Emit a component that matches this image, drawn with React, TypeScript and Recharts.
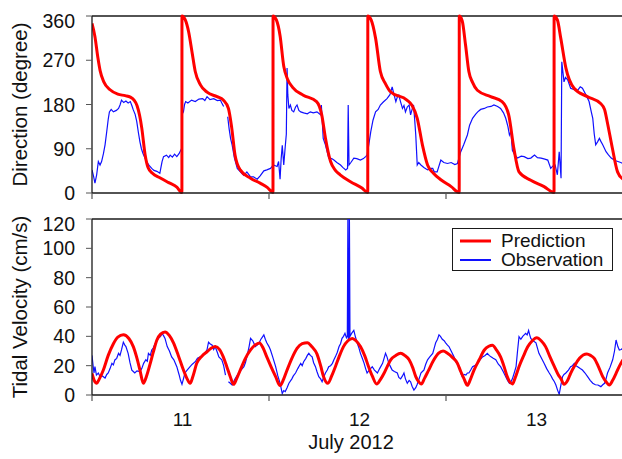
import React from "react";
import { LineChart, Line, XAxis, YAxis, Legend, ReferenceLine } from "recharts";

// x = hours since 11 July 2012 00:00
const dayTicks = [0, 12, 24, 36, 48, 60, 72];
const dayNames: Record<number, string> = { 12: "11", 36: "12", 60: "13" };
const dirTicks = [0, 90, 180, 270, 360];
const velTicks = [0, 20, 40, 60, 80, 100, 120];

type Pt = [number, number | null];

// 방향 예측 (degree)
const predDir: Pt[] = [
  [0, 345], [0.4, 318], [0.8, 275], [1.1, 249], [1.6, 226], [2.45, 210], [3.5, 201], [4.5, 198], [5.2, 195], [5.7, 189],
  [6.1, 178], [6.45, 158], [6.75, 132], [7.2, 78], [7.6, 52], [8.2, 40], [9.2, 31], [10.4, 21], [11.5, 12], [12.19, 1],
  [12.2, 360], [12.65, 352], [13.1, 328], [13.56, 287], [14.0, 247], [14.7, 220], [15.6, 205], [16.96, 196], [17.8, 189],
  [18.5, 172], [18.95, 132], [19.4, 77], [20.1, 47], [21.5, 30], [22.8, 20], [23.8, 11], [24.54, 1],
  [24.55, 360], [25.0, 352], [25.5, 320], [26.0, 258], [26.5, 232], [27.2, 215], [28.65, 199], [30.45, 186], [31.15, 159],
  [31.65, 112], [32.35, 64], [33.0, 46], [33.65, 37], [35.05, 23], [36.6, 10], [37.39, 1],
  [37.4, 360], [37.85, 352], [38.45, 315], [39.1, 247], [39.8, 222], [40.47, 206], [42.7, 189], [43.4, 178], [44.1, 152],
  [44.8, 98], [45.5, 57], [46.3, 40], [47.3, 27], [48.7, 13], [49.79, 1],
  [49.8, 360], [50.2, 350], [50.65, 301], [51.1, 247], [51.6, 225], [52.25, 209], [54.05, 196], [55.6, 186], [56.5, 159],
  [57.2, 91], [57.9, 43], [59.5, 26], [61.3, 13], [62.65, 1],
  [62.66, 360], [63.1, 352], [63.56, 315], [64.26, 254], [65.36, 213], [67.16, 196], [68.96, 182], [69.5, 170], [69.86, 145],
  [70.56, 91], [71.26, 43], [72, 28],
];

// 방향 관측 (degree)
const obsDir: Pt[] = [
  [0, 47], [0.2, 35], [0.4, 20], [0.63, 37], [0.86, 64], [1.09, 57], [1.3, 64], [1.55, 80], [1.77, 98], [2.0, 125], [2.2, 150],
  [2.36, 165], [2.6, 170], [2.9, 165], [3.3, 168], [3.6, 172], [3.8, 179], [4.0, 189], [4.3, 184], [4.6, 187], [4.9, 183],
  [5.2, 186], [5.4, 178], [5.6, 169], [5.85, 160], [6.07, 145], [6.3, 122], [6.5, 104], [6.7, 90], [6.9, 81], [7.15, 72],
  [7.4, 64], [7.8, 55], [8.1, 50], [8.4, 46], [8.8, 44], [9.2, 40], [9.35, 52], [9.5, 64], [9.7, 74], [10.1, 77], [10.4, 72],
  [10.6, 77], [10.9, 73], [11.2, 79], [11.5, 74], [11.8, 80], [12.0, 86], [12.2, 92],
  [12.22, 160], [12.4, 165], [12.55, 180], [12.7, 186], [13.0, 183], [13.5, 189], [14.0, 186], [14.5, 191], [15.0, 192],
  [15.3, 188], [15.6, 196], [16.0, 190], [16.5, 192], [17.0, 188], [17.4, 189], [17.6, 183], [17.85, 176], [18.1, null],
  [18.4, 155], [18.6, 130], [18.8, 110], [19.0, 98], [19.3, 72], [19.7, 50], [20.0, 45], [20.3, 40], [20.6, 36], [21.0, 43],
  [21.5, 33], [21.9, 33], [22.4, 28], [22.8, 35], [23.3, 45], [23.7, 47], [24.2, 50], [24.6, 57], [25.1, 54], [25.3, 64],
  [25.5, 28], [25.65, 70], [25.8, 97], [26.0, 57], [26.2, 94], [26.35, 120], [26.45, 254], [26.55, 200], [26.7, 172],
  [26.9, 179], [27.1, 168], [27.35, 165], [27.6, 175], [27.8, 179], [28.05, 168], [28.3, 165], [28.7, 163], [29.2, 161],
  [29.6, 165], [30.0, 163], [30.5, 165], [31.0, 159], [31.1, 179], [31.35, 111], [31.65, 98], [32.1, 71], [32.5, 70],
  [32.8, 67], [33.2, 62], [33.7, 57], [34.0, 52], [34.4, 47], [34.65, 50], [34.74, 179], [34.85, 57], [35.1, 62], [35.5, 71],
  [35.9, 70], [36.4, 67], [36.8, 70], [37.1, 74], [37.3, 77], [37.55, 100], [37.8, 125], [38.1, 148], [38.45, 165], [38.8, 170],
  [39.1, 179], [39.5, 185], [40.0, 192], [40.4, 200], [40.7, 216], [40.95, 200], [41.2, 186], [41.4, 195], [41.6, 199],
  [41.85, 185], [42.1, 172], [42.3, 178], [42.5, 165], [42.75, 175], [43.0, 179], [43.2, 159], [43.4, 170], [43.6, 179],
  [43.75, 150], [43.9, 118], [44.1, 57], [44.3, 62], [44.6, 57], [45.0, 52], [45.5, 47], [45.9, 50], [46.2, 50], [46.4, 43],
  [46.8, 43], [47.3, 67], [47.7, 62], [48.2, 60], [48.7, 62], [49.2, 58], [49.55, 60], [50.0, 84], [50.4, 98], [50.9, 118],
  [51.2, 138], [51.6, 152], [52.0, 160], [52.3, 165], [52.7, 170], [53.2, 172], [53.6, 175], [54.1, 176], [54.5, 179],
  [55.0, 176], [55.4, 172], [55.8, 163], [56.1, 152], [56.4, 135], [56.6, 118], [56.8, 125], [57.0, 87], [57.3, 78],
  [57.7, 71], [58.2, 75], [58.6, 74], [59.1, 70], [59.5, 71], [60.0, 77], [60.4, 72], [60.9, 71], [61.4, 69], [61.8, 67],
  [62.2, 50], [62.5, 55], [62.8, 57], [63.1, 37], [63.35, 84], [63.6, 30], [63.7, 267], [64.0, 226], [64.2, 235], [64.5, 230],
  [64.9, 213], [65.4, 210], [65.85, 209], [66.2, 216], [66.5, 213], [67.0, 199], [67.4, 186], [67.7, 165], [67.9, 152],
  [68.1, 120], [68.3, 98], [68.55, 104], [68.8, 111], [69.0, 105], [69.25, 98], [69.7, 84], [70.0, 78], [70.4, 71],
  [70.9, 66], [71.3, 64], [71.7, 62], [72, 60],
];

// 유속 예측 (cm/s)
const predVel: Pt[] = [
  [0, 14.8], [0.3, 10], [0.64, 8], [1.0, 11], [1.54, 17], [2.2, 27], [2.9, 35], [3.5, 39.5], [4.25, 41], [5.0, 38.5],
  [5.6, 33], [6.1, 25], [6.5, 17], [6.97, 8], [7.4, 13], [7.9, 21.6], [8.3, 29], [8.8, 37.5], [9.3, 41.5], [9.9, 43],
  [10.5, 40.5], [11.05, 35.6], [11.7, 27], [12.4, 17], [12.9, 11], [13.3, 8], [13.7, 13], [14.2, 21.6], [14.9, 26.5],
  [15.6, 29.5], [16.2, 32], [16.7, 33], [17.3, 31], [17.8, 26], [18.3, 19], [18.75, 12.5], [19.2, 7.3], [19.6, 11],
  [20.1, 17], [20.8, 25], [21.5, 30.7], [22.1, 34], [22.7, 35.5], [23.2, 32], [23.7, 26], [24.3, 19], [24.9, 12.5],
  [25.5, 6.4], [26.0, 11], [26.45, 17], [27.1, 25], [27.8, 31.8], [28.5, 35], [29.2, 35.7], [29.8, 33], [30.5, 28],
  [31.0, 20], [31.4, 12.5], [32.0, 8], [32.5, 13], [33.0, 19.3], [33.5, 26], [34.1, 33], [34.7, 37], [35.3, 38.6],
  [35.8, 37], [36.4, 33], [37.0, 26.5], [37.5, 19.3], [38.0, 13], [38.6, 7.5], [39.1, 10.5], [39.6, 14.8], [40.0, 19],
  [40.5, 24], [41.2, 27], [41.85, 28.4], [42.4, 27], [43.0, 24], [43.5, 18.5], [43.9, 12.5], [44.3, 9], [44.65, 7.5],
  [45.1, 11.5], [45.65, 17], [46.3, 23.5], [47.0, 28.5], [47.6, 30], [48.2, 28.5], [48.9, 25.5], [49.55, 21.6], [50.0, 16],
  [50.45, 11], [50.9, 6.6], [51.3, 10.5], [51.8, 17], [52.5, 24], [53.2, 30.7], [53.8, 33.2], [54.3, 34], [54.8, 31],
  [55.4, 26], [55.9, 19], [56.3, 12.5], [57.0, 7.5], [57.4, 12], [57.9, 19.3], [58.5, 26.5], [59.1, 33], [59.7, 37],
  [60.3, 39], [60.9, 37], [61.5, 33], [62.1, 26], [62.7, 19.3], [63.2, 14], [63.6, 11], [64.0, 7.3], [64.5, 10], [64.9, 14.8],
  [65.5, 20.5], [66.1, 25], [66.6, 27.3], [67.1, 28], [67.6, 27], [68.1, 25], [68.7, 19], [69.25, 12.5], [69.7, 9],
  [70.15, 6.8], [70.6, 10], [71.06, 14.8], [71.5, 19.5], [72, 24],
];

// 유속 관측 (cm/s)
const obsVel: Pt[] = [
  [0, 27], [0.15, 20], [0.27, 15], [0.4, 19.3], [0.6, 13.6], [0.86, 15], [1.1, 12.5], [1.4, 13], [1.77, 11.6], [2.0, 14],
  [2.2, 15], [2.45, 18], [2.7, 21.6], [2.9, 20.5], [3.1, 23.9], [3.35, 25], [3.6, 28.4], [3.8, 27], [4.0, 30.7], [4.25, 36],
  [4.45, 34], [4.6, 33], [4.9, 28.4], [5.15, 22], [5.4, 17], [5.6, 16], [5.8, 15], [6.1, 16.5], [6.5, 16], [6.75, 18],
  [7.0, 21.6], [7.3, 24], [7.5, 23], [7.65, 28.4], [7.9, 27], [8.1, 30.7], [8.3, 32], [8.55, 35], [8.8, 37], [9.0, 38.6],
  [9.3, 40], [9.5, 42], [9.7, 40.5], [9.9, 38.6], [10.2, 33], [10.5, 30], [10.8, 26], [11.1, 24], [11.5, 19.3], [11.8, 14],
  [12.0, 10], [12.2, 7.3], [12.4, 11], [12.6, 15], [12.9, 17], [13.3, 19.3], [13.6, 21], [14.0, 22.7], [14.3, 25], [14.7, 26],
  [15.0, 27], [15.35, 28.4], [15.6, 31], [15.8, 36], [16.0, 35], [16.3, 34], [16.5, 31], [16.7, 33], [17.0, 29], [17.2, 26],
  [17.4, 25], [17.6, 24], [17.85, 20], [18.1, 13.6], [18.3, null], [18.5, 9], [18.75, 8], [19.0, 6.8], [19.2, 9], [19.4, 11],
  [19.65, 13], [19.9, 15], [20.2, 17], [20.6, 19.3], [20.8, 22], [21.0, 26], [21.3, 33], [21.5, 38.6], [21.8, 37],
  [22.15, 33], [22.4, 34], [22.6, 35], [22.9, 38], [23.1, 39.5], [23.3, 41], [23.5, 38], [23.7, 35.6], [24.0, 33],
  [24.2, 30.7], [24.5, 26], [24.9, 19.3], [25.2, 13], [25.5, 8], [25.8, 1], [26.0, 3], [26.2, 2.3], [26.45, 5], [26.7, 8],
  [27.1, 11], [27.3, 13], [27.6, 15], [27.9, 18], [28.3, 21.6], [28.5, 20], [28.7, 22.7], [29.0, 25], [29.2, 27], [29.4, 28.4],
  [29.6, 27], [29.85, 26], [30.05, 22], [30.3, 19.3], [30.5, 16], [30.75, 12.5], [31.0, 11], [31.2, 9], [31.4, 12],
  [31.65, 15], [31.9, 17], [32.1, 19.3], [32.35, 20], [32.6, 21.6], [32.8, 24], [33.0, 26], [33.25, 29], [33.5, 33],
  [33.7, 35], [33.9, 38.6], [34.1, 40], [34.3, 42], [34.5, 39], [34.62, 40], [34.7, 125], [34.76, 38], [34.84, 38],
  [34.9, 125], [34.98, 40], [35.2, 42], [35.5, 44], [35.7, 40], [35.95, 35.6], [36.2, 32], [36.4, 28.4], [36.65, 25],
  [36.9, 21.6], [37.1, 18], [37.3, 15], [37.6, 17], [38.0, 19.3], [38.3, 17], [38.7, 15], [39.0, 18], [39.4, 21.6],
  [39.6, 25], [39.8, 28.4], [40.0, 26], [40.25, 21.6], [40.5, 19], [40.7, 17], [41.0, 16], [41.4, 15], [41.6, 12],
  [41.85, 11], [42.1, 13], [42.3, 15], [42.5, 11], [42.75, 8], [43.0, 10], [43.2, 9], [43.4, 6], [43.65, 3.4], [43.9, 5],
  [44.1, 7.3], [44.35, 11], [44.6, 15], [44.8, 16], [45.0, 17], [45.25, 21], [45.5, 24], [45.8, 26], [46.2, 28.4],
  [46.4, 32], [46.6, 35.6], [46.85, 38], [47.05, 41], [47.25, 40], [47.5, 38], [47.75, 37], [47.95, 35.6], [48.2, 34],
  [48.4, 33], [48.7, 30], [49.1, 26], [49.4, 22], [49.8, 19.3], [50.0, 15], [50.2, 12.5], [50.45, 14], [50.7, 13.6],
  [50.9, 15], [51.1, 15], [51.35, 17], [51.6, 19.3], [51.9, 20], [52.3, 21.6], [52.6, 24], [52.95, 26], [53.3, 27],
  [53.6, 28.4], [53.85, 27], [54.1, 26], [54.4, 25], [54.75, 24], [55.1, 21], [55.4, 19.3], [55.75, 16], [56.1, 12.5],
  [56.35, 10], [56.6, 8], [56.8, 9], [57.0, 11], [57.25, 15], [57.5, 19.3], [57.7, 30], [57.9, 39.8], [58.15, 38], [58.4, 40],
  [58.6, 41], [58.8, 42], [59.0, 41], [59.2, 44], [59.35, 41], [59.5, 38.6], [59.8, 37], [60.2, 35.6], [60.4, 32],
  [60.6, 28.4], [60.95, 25], [61.3, 21.6], [61.65, 18], [62.0, 15], [62.25, 13], [62.45, 11], [62.7, 9], [62.9, 6.8],
  [63.15, 3], [63.35, 0.5], [63.55, 6], [63.8, 12.5], [64.0, 14], [64.25, 15], [64.6, 17], [64.9, 19.3], [65.15, 20],
  [65.4, 21.6], [65.6, 20], [65.85, 19.3], [66.2, 18], [66.5, 17], [66.85, 15], [67.2, 12.5], [67.55, 10], [67.9, 8],
  [68.25, 7], [68.6, 6.8], [69.0, 5.7], [69.25, 7], [69.5, 8], [69.7, 11], [69.9, 15], [70.25, 19], [70.6, 24], [70.85, 30],
  [71.06, 37.5], [71.3, 33], [71.5, 30.7], [71.75, 31], [72, 32],
];

const rows = (pts: Pt[]) => pts.map(([h, v]) => ({ h, v }));

const AXIS = "#1a1a1a";
const TICK = "#555";
const RED = "#ff0000";
const BLUE = "#1010ff";

const DayTick = (props: any) => {
  const { x, y, payload, showLabel } = props;
  const v = payload.value;
  if (v % 24 === 0) {
    return <line x1={x} x2={x} y1={y} y2={y + 6} stroke={TICK} strokeWidth={1.2} />;
  }
  if (!showLabel) return <g />;
  return (
    <text x={x + 2} y={y + 31} textAnchor="middle" fontSize={19} fill="#111">
      {dayNames[v]}
    </text>
  );
};

const ValTick = (props: any) => {
  const { y, payload, top } = props;
  const shift = payload.value === top ? 5 : 0;
  return (
    <text x={75} y={y + shift} dy="0.36em" textAnchor="end" fontSize={19.5} fill="#111">
      {payload.value}
    </text>
  );
};

const yTitle = (text: string) => (props: any) => {
  const vb = props.viewBox || {};
  const cy = vb.y + vb.height / 2;
  return (
    <text x={27} y={cy} transform={`rotate(-90, 27, ${cy})`} textAnchor="middle" fontSize={20.5} fill="#111">
      {text}
    </text>
  );
};

const xTitle = (props: any) => {
  const vb = props.viewBox || {};
  return (
    <text x={351} y={vb.y + 54} textAnchor="middle" fontSize={20} fill="#111">
      July 2012
    </text>
  );
};

const LegendBox = (props: any) => {
  const items = [...(props.payload || [])].sort((a: any) => (a.value === "Prediction" ? -1 : 1));
  return (
    <div
      style={{
        width: 161,
        height: 43,
        border: `1.3px solid ${AXIS}`,
        boxSizing: "border-box",
        background: "#fff",
        paddingTop: 2,
      }}
    >
      {items.map((it: any) => (
        <div key={it.value} style={{ display: "flex", alignItems: "center", height: 19 }}>
          <svg width={41} height={8} style={{ marginLeft: 7 }}>
            <line x1={0} x2={31} y1={4} y2={4} stroke={it.color} strokeWidth={it.value === "Prediction" ? 3 : 2} />
          </svg>
          <span style={{ fontSize: 19, lineHeight: "19px", color: "#111" }}>{it.value}</span>
        </div>
      ))}
    </div>
  );
};

const App: React.FC = () => {
  return (
    <div
      style={{
        position: "absolute",
        left: 0,
        top: 0,
        width: 622,
        height: 459,
        overflow: "hidden",
        background: "#fff",
        fontFamily: '"Liberation Sans", Arial, Helvetica, sans-serif',
      }}
    >
      {/* 방향 */}
      <div style={{ position: "absolute", left: 0, top: 0 }}>
        <LineChart width={640} height={205} margin={{ top: 16, right: 17, bottom: 0, left: 0 }}>
          <XAxis
            dataKey="h"
            type="number"
            domain={[0, 72]}
            ticks={dayTicks}
            interval={0}
            allowDataOverflow
            height={12}
            tickSize={0}
            tickMargin={0}
            tickLine={false}
            axisLine={{ stroke: AXIS, strokeWidth: 1.3 }}
            tick={(p: any) => <DayTick {...p} showLabel={false} />}
          />
          <YAxis
            type="number"
            domain={[0, 360]}
            ticks={dirTicks}
            interval={0}
            width={92}
            tickSize={6}
            tickMargin={10}
            tickLine={{ stroke: TICK }}
            axisLine={{ stroke: AXIS, strokeWidth: 1.3 }}
            tick={(p: any) => <ValTick {...p} top={360} />}
            label={{ content: yTitle("Direction (degree)") }}
          />
          <ReferenceLine y={360} stroke={AXIS} strokeWidth={1.3} />
          <Line
            data={rows(obsDir)}
            dataKey="v"
            name="Observation"
            type="linear"
            stroke={BLUE}
            strokeWidth={1.2}
            dot={false}
            isAnimationActive={false}
          />
          <Line
            data={rows(predDir)}
            dataKey="v"
            name="Prediction"
            type="monotone"
            stroke={RED}
            strokeWidth={3}
            dot={false}
            isAnimationActive={false}
          />
        </LineChart>
      </div>

      {/* 유속 */}
      <div style={{ position: "absolute", left: 0, top: 205 }}>
        <LineChart width={640} height={254} margin={{ top: 14, right: 17, bottom: 0, left: 0 }}>
          <XAxis
            dataKey="h"
            type="number"
            domain={[0, 72]}
            ticks={dayTicks}
            interval={0}
            allowDataOverflow
            height={64}
            tickSize={0}
            tickMargin={0}
            tickLine={false}
            axisLine={{ stroke: AXIS, strokeWidth: 1.3 }}
            tick={(p: any) => <DayTick {...p} showLabel />}
            label={{ content: xTitle }}
          />
          <YAxis
            type="number"
            domain={[0, 120]}
            ticks={velTicks}
            interval={0}
            allowDataOverflow
            width={92}
            tickSize={6}
            tickMargin={10}
            tickLine={{ stroke: TICK }}
            axisLine={{ stroke: AXIS, strokeWidth: 1.3 }}
            tick={(p: any) => <ValTick {...p} top={120} />}
            label={{ content: yTitle("Tidal Velocity (cm/s)") }}
          />
          <ReferenceLine y={120} stroke={AXIS} strokeWidth={1.3} />
          <Line
            data={rows(obsVel)}
            dataKey="v"
            name="Observation"
            type="linear"
            stroke={BLUE}
            strokeWidth={1.2}
            dot={false}
            isAnimationActive={false}
          />
          <Line
            data={rows(predVel)}
            dataKey="v"
            name="Prediction"
            type="monotone"
            stroke={RED}
            strokeWidth={3}
            dot={false}
            isAnimationActive={false}
          />
          <Legend
            layout="vertical"
            align="center"
            verticalAlign="middle"
            content={<LegendBox />}
            wrapperStyle={{ left: 452, top: 23, width: 161, height: 43 }}
          />
        </LineChart>
      </div>
    </div>
  );
};

export default App;
